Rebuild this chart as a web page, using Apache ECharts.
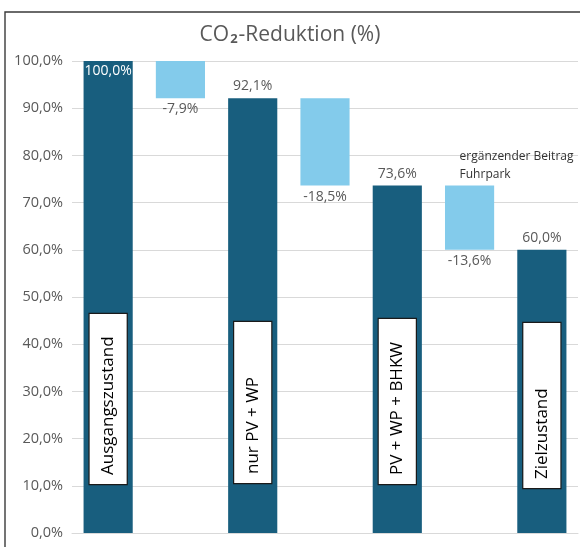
<!DOCTYPE html>
<html>
<head>
<meta charset="utf-8">
<script src="https://cdn.jsdelivr.net/npm/echarts@6/dist/echarts.min.js"></script>
<style>
html,body{margin:0;padding:0;background:#fff;}
#c{width:580px;height:547px;}
</style>
</head>
<body>
<div id="c"></div>
<script>
// ---- data ----
const categories = ['Ausgangszustand', 'Beitrag PV + WP', 'nur PV + WP', 'Beitrag BHKW', 'PV + WP + BHKW', 'ergänzender Beitrag Fuhrpark', 'Zielzustand'];
const totals = [100.0, null, 92.1, null, 73.6, null, 60.0];
const deltas = [null, -7.9, null, -18.5, null, -13.6, null];
const boxNames = ['Ausgangszustand', null, 'nur PV + WP', null, 'PV + WP + BHKW', null, 'Zielzustand'];
const annotationText = 'ergänzender Beitrag\nFuhrpark';
const yTicks = [0, 10, 20, 30, 40, 50, 60, 70, 80, 90, 100];

// ---- derived ----
const fmt = v => v.toFixed(1).replace('.', ',') + '%';
const base = deltas.map((d, i) => {
  if (d == null) return null;
  return totals[i - 1] + d;
});
const deltaHeights = deltas.map(d => d == null ? null : -d);

// styles for name boxes
const boxLen = [153, null, 144, null, 148, null, 148];
const boxDist = [49, null, 50, null, 49, null, 45];

const DARK = '#185e7e';
const LIGHT = '#83cbeb';
const GRAY = '#595959';
const FONT = '"Open Sans", "DejaVu Sans", sans-serif';

const chart = echarts.init(document.getElementById('c'), null, {renderer: 'canvas'});

const option = {
  animation: false,
  backgroundColor: '#fff',
  title: {
    text: '{a|CO}{s|2}{a|-Reduktion (%)}',
    left: 'center',
    top: 19,
    textStyle: {
      rich: {
        a: {fontSize: 21, color: GRAY, fontFamily: FONT, fontWeight: 'normal'},
        s: {fontSize: 13, color: GRAY, fontFamily: FONT, verticalAlign: 'bottom', padding: [9, 1, 0, 1]}
      }
    }
  },
  graphic: [{
    type: 'rect',
    shape: {x: 5, y: 12, width: 700, height: 700},
    style: {fill: 'none', stroke: '#3a3a3a', lineWidth: 1.4},
    silent: true,
    z: 100
  }],
  grid: {left: 72, right: 2, top: 61, bottom: 14, containLabel: false},
  xAxis: {
    type: 'category',
    data: categories,
    axisLabel: {show: false},
    axisTick: {show: false},
    axisLine: {show: true, lineStyle: {color: '#d9d9d9', width: 1}}
  },
  yAxis: {
    type: 'value',
    min: yTicks[0],
    max: yTicks[yTicks.length - 1],
    interval: yTicks[1] - yTicks[0],
    axisLine: {show: false},
    axisTick: {show: false},
    axisLabel: {formatter: v => fmt(v), color: GRAY, fontSize: 14.5, fontFamily: FONT, margin: 9},
    splitLine: {lineStyle: {color: '#d9d9d9', width: 1}}
  },
  series: [
    {
      name: 'base',
      type: 'bar',
      stack: 'w',
      barCategoryGap: '32%',
      barGap: '-100%',
      itemStyle: {color: 'transparent'},
      emphasis: {disabled: true},
      data: base
    },
    {
      name: 'delta',
      type: 'bar',
      stack: 'w',
      barCategoryGap: '32%',
      barGap: '-100%',
      itemStyle: {color: LIGHT},
      label: {
        show: true,
        position: 'bottom',
        distance: 4,
        color: GRAY,
        fontSize: 14,
        fontFamily: FONT,
        formatter: p => p.value == null ? '' : fmt(-p.value)
      },
      data: deltaHeights,
      markPoint: {
        symbol: 'circle',
        symbolSize: 0,
        silent: true,
        label: {
          show: true,
          formatter: annotationText,
          position: 'inside',
          align: 'left',
          verticalAlign: 'top',
          offset: [-10, -38],
          color: '#333',
          fontSize: 12,
          lineHeight: 18,
          fontFamily: FONT
        },
        data: [{coord: [5, totals[4]]}]
      }
    },
    {
      name: 'total',
      type: 'bar',
      stack: 'w',
      barCategoryGap: '32%',
      barGap: '-100%',
      itemStyle: {color: DARK},
      label: {
        show: true,
        position: 'top',
        distance: 5,
        color: GRAY,
        fontSize: 14,
        fontFamily: FONT,
        formatter: p => p.value == null ? '' : fmt(p.value)
      },
      data: totals.map((v, i) => {
        if (v == null) return null;
        if (i === 0) {
          return {value: v, label: {position: 'insideTop', distance: 3, color: '#fff'}};
        }
        return v;
      })
    },
    {
      name: 'names',
      type: 'bar',
      barCategoryGap: '32%',
      barGap: '-100%',
      itemStyle: {color: 'transparent'},
      emphasis: {disabled: true},
      z: 5,
      label: {
        show: true,
        position: 'insideBottom',
        rotate: 90,
        align: 'left',
        verticalAlign: 'middle',
        color: '#000',
        fontSize: 17,
        lineHeight: 21,
        fontFamily: FONT,
        backgroundColor: '#fff',
        borderColor: '#1a1a1a',
        borderWidth: 1.2,
        padding: [8, 8, 8, 9],
        formatter: p => boxNames[p.dataIndex] || ''
      },
      data: totals.map((v, i) => v == null ? null : {
        value: v,
        label: {width: boxLen[i], distance: boxDist[i]}
      })
    }
  ]
};
chart.setOption(option);
</script>
</body>
</html>
